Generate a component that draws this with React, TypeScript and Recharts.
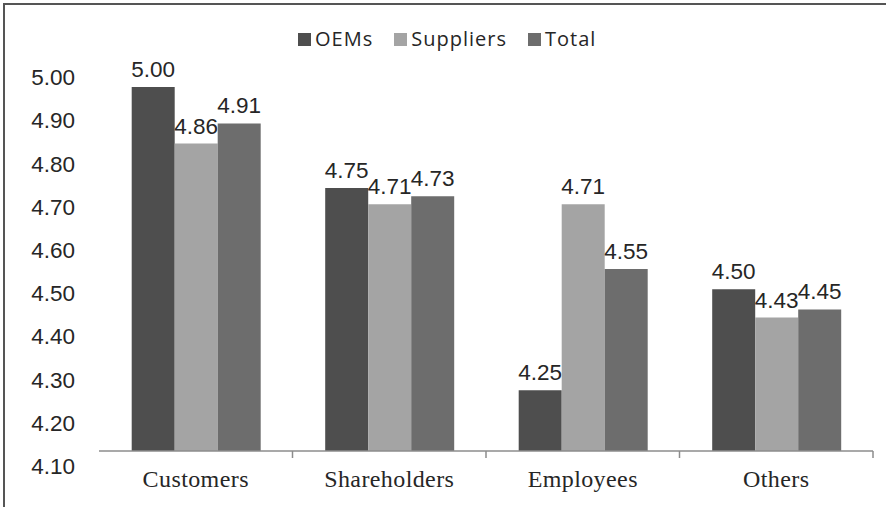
import { BarChart, Bar, XAxis, YAxis, Legend, LabelList } from "recharts"

const categories = ["Customers", "Shareholders", "Employees", "Others"]
const oemValues = [5.0, 4.75, 4.25, 4.5]
const supplierValues = [4.86, 4.71, 4.71, 4.43]
const totalValues = [4.91, 4.73, 4.55, 4.45]
const yTicks = [4.1, 4.2, 4.3, 4.4, 4.5, 4.6, 4.7, 4.8, 4.9, 5.0]

const series = [
  { key: "oems", name: "OEMs", color: "#4e4e4e" },
  { key: "suppliers", name: "Suppliers", color: "#a4a4a4" },
  { key: "total", name: "Total", color: "#6d6d6d" },
]

const data = categories.map((name, i) => ({
  name,
  oems: oemValues[i],
  suppliers: supplierValues[i],
  total: totalValues[i],
}))

const W = 886
const H = 507
const AXIS_Y = 451
const PLOT_TOP = 87
const BAND = (873 - 99) / categories.length

// tick labels in the original sit on a slightly stretched scale vs the bars
const LABEL_SCALE = 389.3 / 364.3

function YTick({ x, y, payload }: any) {
  const ly = 466 + (y - AXIS_Y) * LABEL_SCALE
  return (
    <text
      x={75}
      y={ly}
      dy="0.36em"
      textAnchor="end"
      fontFamily="'Liberation Sans', Arial, sans-serif"
      fontSize={22.5}
      fill="#262626"
    >
      {Number(payload.value).toFixed(2)}
    </text>
  )
}

function XTick({ x, y, payload }: any) {
  const bx = x + BAND / 2
  return (
    <g>
      <line x1={bx} x2={bx} y1={AXIS_Y} y2={AXIS_Y + 7} stroke="#8c8c8c" strokeWidth={1.5} />
      <text
        x={x}
        y={487}
        textAnchor="middle"
        fontFamily="'Liberation Serif', 'Times New Roman', serif"
        fontSize={24}
        letterSpacing={0.4}
        fill="#262626"
      >
        {payload.value}
      </text>
    </g>
  )
}

function LegendContent() {
  return (
    <div style={{ display: "flex", alignItems: "center", height: 26 }}>
      {series.map((s) => (
        <div key={s.key} style={{ display: "flex", alignItems: "center", marginRight: 21 }}>
          <div style={{ width: 13, height: 13, backgroundColor: s.color, marginRight: 4 }} />
          <span
            style={{
              fontFamily: "'Open Sans', sans-serif",
              fontSize: 20,
              letterSpacing: 1,
              lineHeight: "26px",
              color: "#262626",
            }}
          >
            {s.name}
          </span>
        </div>
      ))}
    </div>
  )
}

export default function App() {
  return (
    <div
      style={{
        position: "fixed",
        left: 0,
        top: 0,
        width: W,
        height: H,
        background: "#fff",
        overflow: "hidden",
      }}
    >
      <div
        style={{
          position: "absolute",
          left: 3,
          top: 3,
          width: W + 20,
          height: H + 20,
          borderTop: "2px solid #555",
          borderLeft: "2px solid #555",
        }}
      />
      <div style={{ position: "absolute", left: 0, top: 0 }}>
        <BarChart
          width={W}
          height={H}
          data={data}
          margin={{ top: PLOT_TOP, right: 13, bottom: 0, left: 0 }}
          barCategoryGap="16.9%"
          barGap={0}
        >
          <XAxis
            dataKey="name"
            height={H - AXIS_Y}
            axisLine={{ stroke: "#8c8c8c", strokeWidth: 1.5 }}
            tickLine={false}
            tick={<XTick />}
            interval={0}
          />
          <YAxis
            width={99}
            domain={[4.1, 5.0]}
            ticks={yTicks}
            axisLine={false}
            tickLine={false}
            tick={<YTick />}
            interval={0}
          />
          <Legend
            layout="horizontal"
            verticalAlign="middle"
            align="center"
            content={<LegendContent />}
            wrapperStyle={{ top: 26, left: 298, width: "auto" }}
          />
          {series.map((s) => (
            <Bar key={s.key} dataKey={s.key} name={s.name} fill={s.color} isAnimationActive={false}>
              <LabelList
                dataKey={s.key}
                position="top"
                offset={10}
                formatter={(v: any) => Number(v).toFixed(2)}
                style={{
                  fontFamily: "'Liberation Sans', Arial, sans-serif",
                  fontSize: 22.5,
                  fill: "#262626",
                }}
              />
            </Bar>
          ))}
        </BarChart>
      </div>
    </div>
  )
}
